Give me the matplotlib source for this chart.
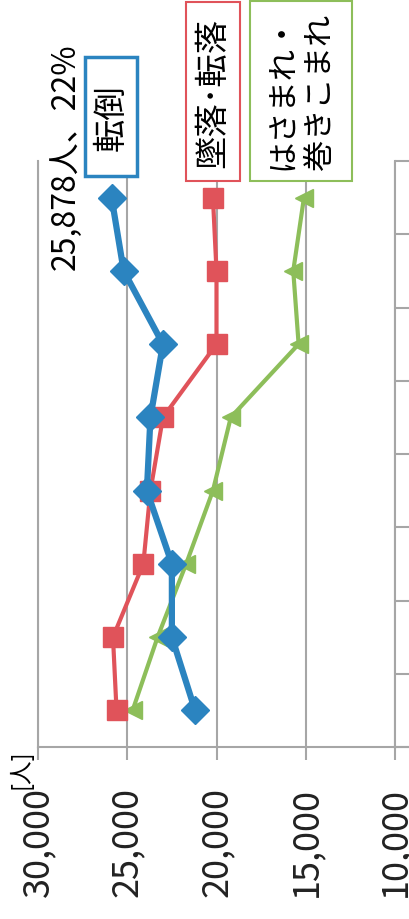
import numpy as np
import matplotlib.pyplot as plt
import matplotlib.patches as mpatches
from matplotlib.lines import Line2D

plt.rcParams['font.family'] = ['Noto Sans CJK JP', 'DejaVu Sans']

# data (chart is drawn rotated 90 degrees, first period at the bottom)
tentou = [21200, 22500, 22500, 23900, 23700, 23000, 25200, 25878]
tsuiraku = [25600, 25800, 24100, 23700, 23000, 20000, 20000, 20200]
hasamare = [24700, 23300, 21700, 20200, 19200, 15400, 15700, 15100]
value_ticks = [30000, 25000, 20000, 15000, 10000]
tick_labels = ['30,000', '25,000', '20,000', '15,000', '10,000']

W, H = 409, 920
fig = plt.figure(figsize=(W/100, H/100), dpi=100)
ax = fig.add_axes([38/W, 1-748/H, (395-38)/W, (748-162)/H])

pos = np.arange(len(tentou)) + 0.5
grid_c = '#a6a6a6'

ax.plot(tentou, pos, color='#2B84C0', lw=4.5, marker='D', ms=14, zorder=5)
ax.plot(tsuiraku, pos, color='#E0535A', lw=3, marker='s', ms=14, zorder=4)
ax.plot(hasamare, pos, color='#8DBE5A', lw=3, marker='<', ms=13, zorder=3)

ax.set_xlim(30000, 10000)
ax.set_ylim(0, len(tentou))
ax.set_xticks(value_ticks)
ax.set_xticklabels(tick_labels, rotation=90, fontsize=26, color='#222222')
ax.tick_params(axis='x', direction='out', length=9, width=1.5, color=grid_c, pad=19)
ax.yaxis.tick_right()
ax.set_yticks(np.arange(len(tentou) + 1))
ax.set_yticklabels([])
ax.tick_params(axis='y', direction='out', length=10, width=1.5, color=grid_c)
ax.grid(axis='x', color=grid_c, lw=1.5)
for s in ['left', 'right', 'bottom']:
    ax.spines[s].set_color(grid_c)
    ax.spines[s].set_linewidth(1.5)
ax.spines['top'].set_visible(False)
ax.set_axisbelow(True)

# bottom axis line runs on to the image edge
fig.add_artist(Line2D([395/W, 1], [1-748/H, 1-748/H], color=grid_c, lw=1.5))

fig.text(20/W, 1-769/H, '[人]', rotation=90, ha='center', va='center', fontsize=17)
fig.text(66/W, 1-157/H, '25,878人、22%', rotation=90, ha='center', va='center', fontsize=23)

# legend boxes next to the lines
boxes = [
    (85, 58, 137, 177, '#2B84C0', 2.5, '転倒', 24),
    (186, 3, 240, 182, '#E0535A', 1.5, '墜落･転落', 24),
    (250, 2, 352, 182, '#8DBE5A', 1.5, 'はさまれ・\n巻きこまれ', 22.5),
]
for x0, y0, x1, y1, col, lw, txt, fs in boxes:
    fig.add_artist(mpatches.Rectangle((x0/W, 1-y1/H), (x1-x0)/W, (y1-y0)/H,
                                      transform=fig.transFigure, fc='white', ec=col, lw=lw, zorder=6))
    fig.text((x0+x1)/2/W, 1-(y0+y1)/2/H, txt, rotation=90, ha='center', va='center',
             fontsize=fs, linespacing=1.2, zorder=7)

fig.savefig('out.png', dpi=100)
